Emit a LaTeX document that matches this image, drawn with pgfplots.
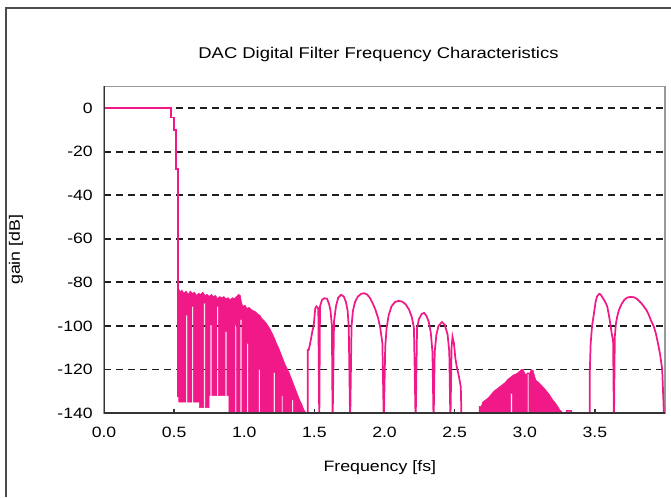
\documentclass[border=0pt]{standalone}
\usepackage{fontspec}
\setmainfont{Liberation Sans}[FakeStretch=1.18]
\usepackage{pgfplots}
\pgfplotsset{compat=1.18}
\definecolor{curve}{RGB}{240,25,135}
\definecolor{gridc}{RGB}{30,30,30}
\begin{document}
\begin{tikzpicture}
% picture is 671x497 px, 1px = 0.75pt
\useasboundingbox (0,0) rectangle (503.25pt,372.75pt);
\draw[line width=1.5pt, black!70] (4.5pt,0pt) -- (4.5pt,366.75pt) -- (503.25pt,366.75pt);
\begin{axis}[
  at={(78pt,63pt)}, anchor=south west,
  width=420.75pt, height=244.9pt, scale only axis,
  xmin=0, xmax=4, ymin=-140, ymax=10,
  xtick={0,0.5,...,3.5},
  xticklabels={0.0,0.5,1.0,1.5,2.0,2.5,3.0,3.5},
  ytick={-140,-120,...,0},
  yticklabels={-140,-120,-100,-80,-60,-40,-20,0},
  xtick pos=bottom, ytick pos=left,
  tick align=inside, major tick length=3pt,
  xtick style={draw=black!80, line width=1pt},
  ytick style={draw=none},
  ymajorgrids,
  grid style={gridc, line width=1.4pt, dash pattern=on 5.5pt off 3.5pt},
  axis line style={draw=black!40, line width=1pt},
  tick label style={font=\fontsize{11.2}{13}\selectfont},
  xticklabel style={anchor=center, yshift=-14.25pt},
  yticklabel style={anchor=east, inner sep=0pt, xshift=-8.25pt},
  title={DAC Digital Filter Frequency Characteristics},
  title style={at={(axis description cs:0.5,1.072)}, anchor=center, xshift=-4.5pt, font=\fontsize{11.7}{13}\selectfont},
  xlabel={Frequency [fs]},
  xlabel style={at={(axis description cs:0.5,-0.168)}, anchor=center, xshift=-3.5pt, font=\fontsize{11.3}{13}\selectfont},
  ylabel={gain [dB]},
  ylabel style={at={(axis description cs:-0.157,0.5)}, anchor=center, font=\fontsize{11.3}{13}\selectfont},
  no markers,
]
% dense stop band, 0.53 - 1.44 fs
\addplot[draw=curve, fill=curve, line width=0.4pt] coordinates {
(0.533,-135)(0.533,-83)
(0.545,-84.5)(0.555,-83.5)(0.57,-85)(0.585,-84)(0.60,-85.5)(0.615,-84)(0.63,-85)(0.645,-84.5)
(0.66,-86)(0.675,-85)(0.69,-85.5)(0.705,-84.5)(0.72,-86)(0.735,-85.5)(0.75,-86.5)(0.765,-85.5)
(0.78,-86.5)(0.795,-86)(0.81,-87.5)(0.825,-86.5)(0.84,-87)(0.855,-86.5)(0.87,-87.5)(0.885,-87)
(0.90,-88)(0.915,-87)(0.93,-87.5)(0.945,-86.5)(0.96,-85.5)(0.972,-86)(0.98,-89)(0.99,-91)
(1.005,-90.5)(1.02,-92)(1.035,-91.5)(1.05,-92.5)(1.065,-93)(1.08,-93.5)(1.095,-94.5)(1.11,-95)
(1.125,-96.5)(1.14,-97.5)(1.155,-98.5)(1.17,-100)(1.185,-101.5)(1.20,-103.5)(1.215,-105.5)
(1.23,-108)(1.245,-110)(1.26,-112.5)(1.275,-115)(1.29,-117.5)(1.305,-119.5)(1.32,-121.5)
(1.335,-124)(1.35,-126.5)(1.365,-129)(1.38,-131.5)(1.395,-134)(1.41,-136)(1.425,-138.5)(1.44,-140)
(1.351,-140)(1.351,-134)(1.339,-134)(1.339,-140)
(1.276,-140)(1.276,-132)(1.266,-132)(1.266,-140)
(1.22,-140)(1.22,-121.5)(1.208,-121.5)(1.208,-140)
(1.114,-140)(1.114,-120)(1.102,-120)(1.102,-140)
(1.03,-140)(1.03,-108)(1.018,-108)(1.018,-140)
(0.983,-140)(0.983,-97)(0.971,-97)(0.971,-140)
(0.946,-140)(0.946,-99.5)(0.934,-99.5)(0.934,-140)
(0.89,-140)(0.89,-132)
(0.876,-132)(0.876,-102.5)(0.864,-102.5)(0.864,-132)
(0.816,-132)(0.816,-91)(0.804,-91)(0.804,-132)
(0.769,-132)(0.769,-99.5)(0.757,-99.5)(0.757,-132)
(0.75,-132)(0.75,-137.5)
(0.722,-137.5)(0.722,-89.5)(0.71,-89.5)(0.71,-137.5)
(0.68,-137.5)(0.68,-135)
(0.638,-135)(0.638,-91)(0.626,-91)(0.626,-135)
(0.596,-135)(0.596,-95)(0.584,-95)(0.584,-135)
(0.533,-135)
};
% dense region around 3 fs
\addplot[draw=curve, fill=curve, line width=0.4pt] coordinates {
(2.675,-140)(2.675,-137)(2.69,-137)(2.70,-135)(2.72,-134)(2.74,-133)(2.76,-131.5)(2.78,-130)
(2.80,-129)(2.82,-128)(2.84,-127)(2.86,-126)(2.88,-124.5)(2.90,-123.5)(2.92,-122.5)(2.94,-122)
(2.96,-121)(2.975,-120)(2.99,-120)(3.00,-122)(3.035,-122)(3.045,-120)(3.06,-120.5)(3.07,-123)
(3.08,-125)(3.10,-126)(3.115,-127)(3.13,-128)(3.15,-129.5)(3.17,-131)(3.185,-132.5)(3.20,-134)
(3.22,-135.5)(3.235,-137)(3.25,-138.5)(3.265,-139.5)(3.275,-140)
(3.03,-140)(3.03,-121.6)(3.018,-121.6)(3.018,-140)
(2.911,-140)(2.911,-131)(2.899,-131)(2.899,-140)
(2.675,-140)
};
\addplot[curve, line width=1.2pt] coordinates {(3.29,-141)(3.30,-139)(3.33,-139)(3.34,-141)};
% pass band and transition
\addplot[curve, line width=1.3pt] coordinates {
(0,0)(0.479,0)(0.479,-4.2)(0.497,-4.2)(0.497,-10)(0.514,-10)(0.514,-28)(0.528,-28)(0.528,-132.5)
};
% side lobes 1.45 - 2.55 fs
\addplot[curve, line width=1.3pt] coordinates {
(1.452,-145)(1.452,-111)(1.46,-111)(1.47,-108)(1.487,-102)(1.495,-100)(1.506,-92)(1.515,-91)
(1.528,-92)(1.535,-145)(1.54,-91)(1.555,-88)(1.57,-87.3)(1.59,-87.5)(1.605,-90)(1.615,-93)
(1.625,-100)(1.63,-145)(1.64,-98)(1.654,-91)(1.67,-87)(1.69,-85.7)(1.71,-86.5)(1.725,-89)
(1.737,-93)(1.745,-100)(1.755,-145)(1.765,-100)(1.775,-93)(1.79,-89)(1.81,-86.5)(1.835,-85.2)
(1.855,-85)(1.875,-85.5)(1.895,-87)(1.915,-89.5)(1.935,-92.5)(1.955,-96.5)(1.97,-101)(1.985,-108)
(1.995,-145)(2.005,-110)(2.015,-101)(2.03,-95)(2.05,-91)(2.075,-89)(2.1,-88.5)(2.125,-88.8)
(2.15,-90)(2.175,-92.5)(2.195,-96)(2.21,-101)(2.222,-145)(2.232,-101)(2.245,-97)(2.265,-94.5)
(2.283,-94)(2.3,-95.5)(2.315,-98)(2.33,-103)(2.342,-112)(2.35,-145)(2.358,-112)(2.37,-104)
(2.385,-100)(2.41,-98.2)(2.43,-99.5)(2.45,-104)(2.462,-112)(2.47,-145)(2.478,-110)(2.485,-105)
(2.495,-108)(2.505,-114.7)(2.515,-118.7)(2.53,-123)(2.544,-128)(2.55,-145)
};
% side lobes 3.46 - 4.0 fs
\addplot[curve, line width=1.3pt] coordinates {
(3.463,-145)(3.463,-123)(3.47,-108)(3.48,-100)(3.494,-94)(3.505,-89)(3.515,-86.5)(3.53,-85.3)
(3.54,-85.5)(3.555,-87)(3.57,-88.5)(3.588,-91)(3.6,-95)(3.61,-99)(3.62,-103.4)(3.63,-107)
(3.636,-145)(3.642,-105)(3.65,-99)(3.66,-95.5)(3.672,-92.6)(3.69,-90)(3.71,-88)(3.73,-87)
(3.75,-86.7)(3.778,-86.8)(3.8,-87.6)(3.814,-88.4)(3.83,-89.5)(3.85,-91.1)(3.87,-93)(3.885,-95)
(3.9,-97.5)(3.92,-100.3)(3.935,-103.5)(3.95,-108)(3.965,-113)(3.98,-120)(3.995,-145)
};
\draw[black!80, line width=1.7pt] (rel axis cs:0,1) -- (rel axis cs:0,0) -- (rel axis cs:1,0);
\end{axis}
\end{tikzpicture}
\end{document}
